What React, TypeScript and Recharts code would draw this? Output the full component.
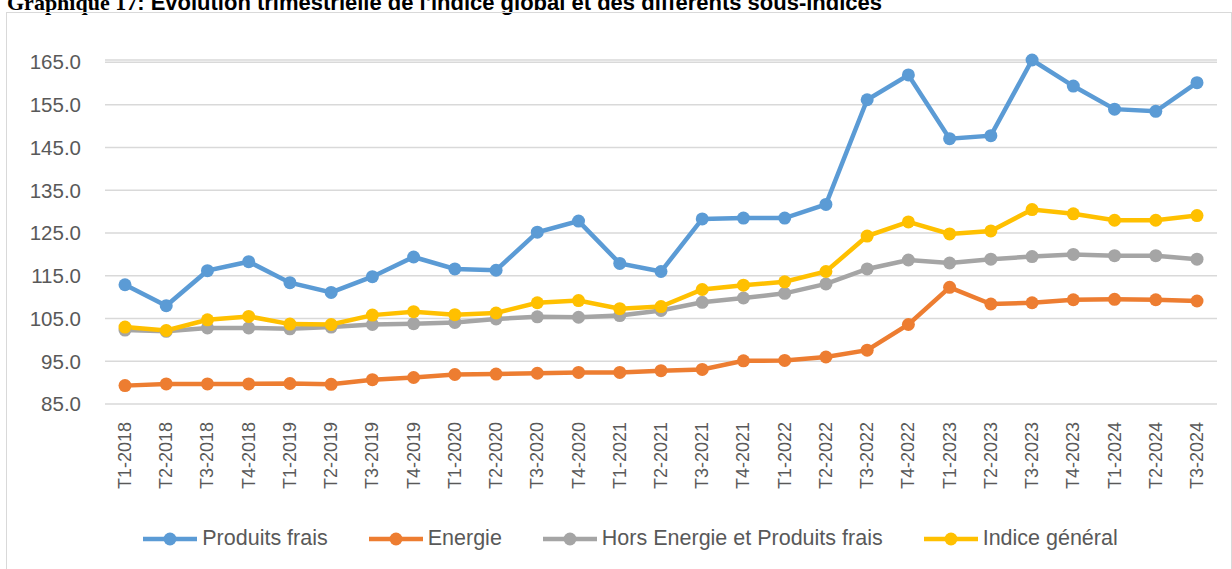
import * as React from "react";
import {
  LineChart,
  Line,
  XAxis,
  YAxis,
  CartesianGrid,
  Legend,
} from "recharts";

const quarters = [
  "T1-2018", "T2-2018", "T3-2018", "T4-2018",
  "T1-2019", "T2-2019", "T3-2019", "T4-2019",
  "T1-2020", "T2-2020", "T3-2020", "T4-2020",
  "T1-2021", "T2-2021", "T3-2021", "T4-2021",
  "T1-2022", "T2-2022", "T3-2022", "T4-2022",
  "T1-2023", "T2-2023", "T3-2023", "T4-2023",
  "T1-2024", "T2-2024", "T3-2024",
];

const produitsFrais = [
  112.9, 108.0, 116.2, 118.3, 113.4, 111.1, 114.8, 119.4, 116.6, 116.3,
  125.2, 127.8, 117.9, 116.0, 128.3, 128.5, 128.5, 131.7, 156.2, 162.0,
  147.1, 147.8, 165.5, 159.4, 154.0, 153.5, 160.2,
];

const energie = [
  89.3, 89.7, 89.7, 89.7, 89.8, 89.6, 90.7, 91.2, 91.9, 92.0,
  92.2, 92.4, 92.4, 92.8, 93.1, 95.1, 95.2, 96.0, 97.6, 103.6,
  112.3, 108.4, 108.7, 109.4, 109.5, 109.4, 109.1,
];

const horsEnergie = [
  102.3, 102.0, 102.8, 102.8, 102.6, 103.0, 103.6, 103.8, 104.1, 104.9,
  105.4, 105.3, 105.7, 106.9, 108.8, 109.8, 110.9, 113.1, 116.6, 118.7,
  118.0, 118.9, 119.5, 120.0, 119.7, 119.7, 118.9,
];

const indiceGeneral = [
  103.0, 102.2, 104.7, 105.5, 103.7, 103.6, 105.8, 106.6, 105.9, 106.3,
  108.7, 109.2, 107.3, 107.8, 111.8, 112.8, 113.6, 116.0, 124.3, 127.6,
  124.8, 125.5, 130.5, 129.5, 128.0, 128.0, 129.1,
];

const yTicks = [85, 95, 105, 115, 125, 135, 145, 155, 165];

const series = [
  { key: "produitsFrais", name: "Produits frais", color: "#5B9BD5" },
  { key: "energie", name: "Energie", color: "#ED7D31" },
  { key: "horsEnergie", name: "Hors Energie et Produits frais", color: "#A5A5A5" },
  { key: "indiceGeneral", name: "Indice général", color: "#FFC000" },
];

const data = quarters.map((q, i) => ({
  quarter: q,
  produitsFrais: produitsFrais[i],
  energie: energie[i],
  horsEnergie: horsEnergie[i],
  indiceGeneral: indiceGeneral[i],
}));

const QuarterTick = (props: any) => {
  const { x, y, payload } = props;
  return (
    <text
      x={x}
      y={y}
      transform={`rotate(-90, ${x}, ${y})`}
      textAnchor="end"
      dominantBaseline="central"
      fill="#595959"
      fontSize={18}
      fontFamily="'Liberation Sans', Arial, sans-serif"
    >
      {payload.value}
    </text>
  );
};

const renderLegend = () => (
  <div
    style={{
      display: "flex",
      justifyContent: "center",
      gap: 41,
      fontFamily: "'Liberation Sans', Arial, sans-serif",
      fontSize: 21.5,
      color: "#595959",
      paddingLeft: 44,
    }}
  >
    {series.map((s) => (
      <div key={s.key} style={{ display: "flex", alignItems: "center", gap: 5 }}>
        <svg width={54} height={16}>
          <line x1={0} y1={8} x2={54} y2={8} stroke={s.color} strokeWidth={4.5} />
          <circle cx={27} cy={8} r={6.5} fill={s.color} />
        </svg>
        <span>{s.name}</span>
      </div>
    ))}
  </div>
);

export default function App() {
  return (
    <div
      style={{
        position: "absolute",
        left: 0,
        top: 0,
        width: 1232,
        height: 569,
        overflow: "hidden",
        background: "#fff",
      }}
    >
      <div
        style={{
          position: "absolute",
          left: 7,
          top: -10,
          whiteSpace: "nowrap",
          fontWeight: "bold",
          fontSize: 22,
          color: "#000",
        }}
      >
        <span style={{ fontFamily: "'Liberation Serif', serif" }}>Graphique 17</span>
        <span style={{ fontFamily: "'Liberation Sans', Arial, sans-serif" }}>
          : Evolution trimestrielle de l'indice global et des différents sous-indices
        </span>
      </div>
      <div
        style={{
          position: "absolute",
          left: 6,
          top: 12,
          width: 1224,
          height: 600,
          border: "1.5px solid #d9d9d9",
        }}
      />
      <div style={{ position: "absolute", left: 0, top: 0 }}>
        <LineChart
          width={1232}
          height={569}
          data={data}
          margin={{ top: 60, right: 15, bottom: 0, left: 0 }}
        >
          <CartesianGrid vertical={false} stroke="#d9d9d9" strokeWidth={1.5} />
          <XAxis
            dataKey="quarter"
            axisLine={false}
            tickLine={false}
            interval={0}
            height={122}
            padding={{ left: 20, right: 20 }}
            tick={<QuarterTick />}
            tickSize={6}
            tickMargin={12}
          />
          <YAxis
            domain={[85, 165]}
            ticks={yTicks}
            width={105}
            axisLine={false}
            tickLine={false}
            tickMargin={18}
            tickFormatter={(v: number) => v.toFixed(1)}
            tick={{
              fill: "#595959",
              fontSize: 20.5,
              fontFamily: "'Liberation Sans', Arial, sans-serif",
            }}
          />
          <Legend verticalAlign="bottom" height={43} content={renderLegend} />
          {series.map((s) => (
            <Line
              key={s.key}
              dataKey={s.key}
              name={s.name}
              type="linear"
              stroke={s.color}
              strokeWidth={4.5}
              dot={{ r: 6.5, fill: s.color, stroke: s.color, strokeWidth: 0 }}
              activeDot={false}
              isAnimationActive={false}
            />
          ))}
        </LineChart>
      </div>
    </div>
  );
}
